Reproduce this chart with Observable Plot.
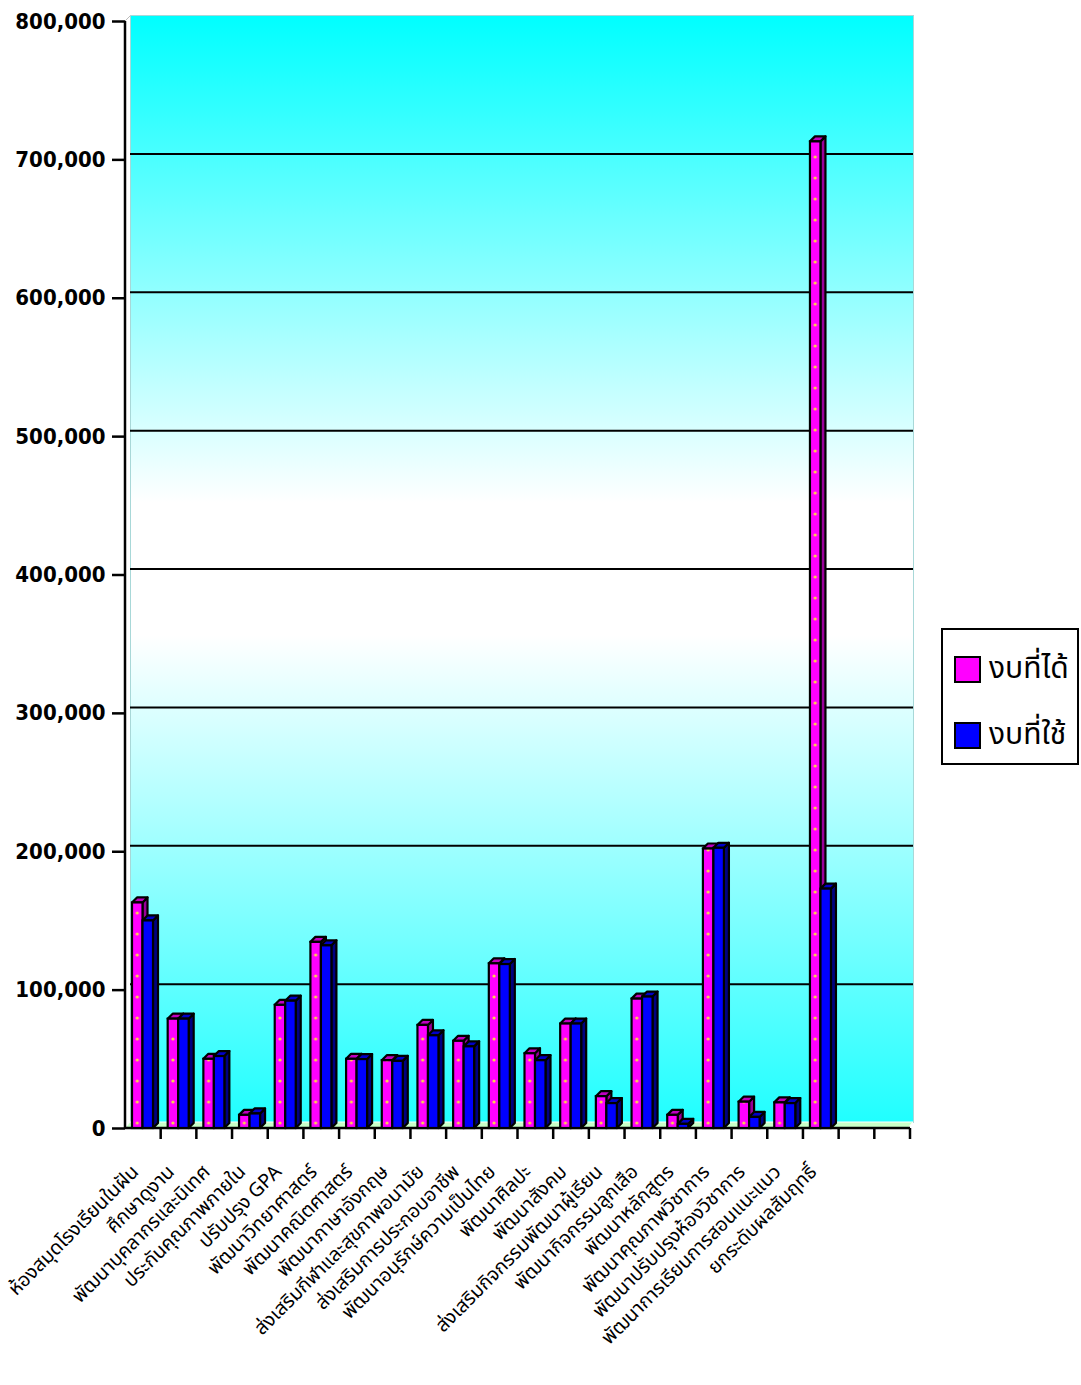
<!DOCTYPE html>
<html><head><meta charset="utf-8">
<script src="https://cdn.jsdelivr.net/npm/d3@7"></script>
<script src="https://cdn.jsdelivr.net/npm/@observablehq/plot@0.6"></script>
<style>
body{margin:0;background:#fff;}
#wrap{position:relative;width:1081px;height:1385px;overflow:hidden;}
#legend{position:absolute;left:941px;top:628px;width:134px;height:133px;border:2px solid #000;background:#fff;font-family:"Noto Sans Thai","Tahoma","DejaVu Sans",sans-serif;font-size:30px;color:#000;}
#legend .it{position:absolute;left:11px;display:flex;align-items:center;}
#legend .sw{width:23px;height:23px;border:2px solid #000;margin-right:8px;}
</style></head><body><div id="wrap"></div>
<script>
const categories = [
  "ห้องสมุดโรงเรียนในฝัน","ศึกษาดูงาน","พัฒนาบุคลากรและนิเทศ","ประกันคุณภาพภายใน","ปรับปรุง GPA",
  "พัฒนาวิทยาศาสตร์","พัฒนาคณิตศาสตร์","พัฒนาภาษาอังกฤษ","ส่งเสริมกีฬาและสุขภาพอนามัย","ส่งเสริมการประกอบอาชีพ",
  "พัฒนาอนุรักษ์ความเป็นไทย","พัฒนาศิลปะ","พัฒนาสังคม","ส่งเสริมกิจกรรมพัฒนาผู้เรียน","พัฒนากิจกรรมลูกเสือ",
  "พัฒนาหลักสูตร","พัฒนาคุณภาพวิชาการ","พัฒนาปรับปรุงห้องวิชาการ","พัฒนาการเรียนการสอนแนะแนว","ยกระดับผลสัมฤทธิ์"
];
const budgetReceived = [163000,79000,50000,9500,89000,134500,50000,49000,74500,63000,119000,54000,75500,23000,93500,9500,202000,19000,18500,713000];
const budgetUsed     = [150000,79000,52000,10500,92000,132000,49800,48500,67000,59000,118500,49000,75500,18000,95000,3000,202500,8000,18000,173000];
const emptySlots = [" ", "  "];
const yTicks = [0,100000,200000,300000,400000,500000,600000,700000,800000];
const seriesNames = ["งบที่ได้","งบที่ใช้"];
const seriesColors = ["#ff00ff","#0000ff"];

const received = categories.map((c,i)=>({cat:c, value:budgetReceived[i]}));
const used = categories.map((c,i)=>({cat:c, value:budgetUsed[i]}));
const xDomain = categories.concat(emptySlots);

const W = 1081, H = 1385, mL = 125, mR = 171, mT = 21, mB = 257;
const BW = (W - mL - mR) / xDomain.length;
const D = 5;          // 3D depth in px
const P_L = 7, BARW = 10.5, B_L = P_L + BARW;
const thaiFont = "'Noto Sans Thai','Tahoma','DejaVu Sans',sans-serif";

function decor(index, scales) {
  const x = scales.x, y = scales.y;
  const bw = x.bandwidth();
  const y0 = y(0);
  const xs = x(xDomain[0]), xe = x(xDomain[xDomain.length-1]) + bw;
  const g = d3.create("svg:g");
  g.append("path").attr("d", `M${xs},${y0}L${xs+D},${y0-D-1}L${xe+D-2},${y0-D-1}L${xe-2},${y0}Z`)
    .attr("fill","#c8ffc8").attr("stroke","#fff").attr("stroke-width",1);
  g.append("line").attr("x1",xs).attr("x2",xe).attr("y1",y0).attr("y2",y0).attr("stroke","#000").attr("stroke-width",2.5);
  g.append("line").attr("x1",xs).attr("x2",xs).attr("y1",y(800000)).attr("y2",y0).attr("stroke","#000").attr("stroke-width",2.5);
  g.append("line").attr("x1",xs).attr("x2",xs+D).attr("y1",y(800000)).attr("y2",y(800000)-D).attr("stroke","#bbb").attr("stroke-width",1);
  xDomain.forEach((c,i) => {
    const xb = x(c) + bw;
    g.append("line").attr("x1",xb).attr("x2",xb).attr("y1",y0).attr("y2",y0+11).attr("stroke","#000").attr("stroke-width",2.5);
  });
  return g.node();
}

function faces(series, left, sideColor, topColor) {
  return function(index, scales) {
    const x = scales.x, y = scales.y;
    const g = d3.create("svg:g").attr("stroke","#000").attr("stroke-width",2.2).attr("stroke-linejoin","round");
    series.forEach(d => {
      const x0 = x(d.cat) + left, x1 = x0 + BARW, yt = y(d.value), yb = y(0);
      g.append("path").attr("fill", sideColor)
        .attr("d", `M${x1},${yt}L${x1+D},${yt-D}L${x1+D},${yb-D}L${x1},${yb}Z`);
      g.append("path").attr("fill", topColor)
        .attr("d", `M${x0},${yt}L${x0+D},${yt-D}L${x1+D},${yt-D}L${x1},${yt}Z`);
    });
    return g.node();
  };
}

const chart = Plot.plot({
  width: W, height: H,
  marginLeft: mL, marginRight: mR, marginTop: mT, marginBottom: mB,
  style: {fontFamily: thaiFont, background: "transparent", overflow: "visible"},
  x: {domain: xDomain, padding: 0, round: false, axis: null},
  y: {domain: [0, 800000], axis: null},
  marks: [
    Plot.frame({fill: "url(#wallGrad)", stroke: "#a8d8d8", insetLeft: 5, insetRight: -3, insetTop: -6, insetBottom: 6}),
    Plot.ruleY(yTicks.slice(1, -1), {y: d => d, stroke: "#000", strokeWidth: 2, dy: -6, insetLeft: 5, insetRight: -3}),
    decor,
    Plot.axisY({ticks: yTicks, tickSize: 13, tickPadding: 7, tickFormat: d3.format(","), fontSize: 22, fontWeight: "bold",
      fontFamily: "'DejaVu Sans Condensed','DejaVu Sans',sans-serif", strokeWidth: 2.5, label: null}),
    Plot.axisX({ticks: categories, tickSize: 0, tickPadding: 40, tickRotate: -45, fontSize: 19.5, dx: -8, label: null, fontFamily: thaiFont}),
    faces(received, P_L, "#990099", "#c000c0"),
    faces(used, B_L, "#000080", "#0000c8"),
    Plot.barY(received, {x: "cat", y: "value", fill: "url(#pinkDots)", stroke: "#000", strokeWidth: 2.2,
      insetLeft: P_L, insetRight: BW - P_L - BARW}),
    Plot.barY(used, {x: "cat", y: "value", fill: seriesColors[1], stroke: "#000", strokeWidth: 2.2,
      insetLeft: B_L, insetRight: BW - B_L - BARW})
  ]
});

const defs = `<defs>
<linearGradient id="wallGrad" x1="0" y1="0" x2="0" y2="1">
  <stop offset="0" stop-color="#00ffff"/>
  <stop offset="0.44" stop-color="#ffffff"/>
  <stop offset="0.56" stop-color="#ffffff"/>
  <stop offset="1" stop-color="#20ffff"/>
</linearGradient>
<pattern id="pinkDots" patternUnits="userSpaceOnUse" x="${mL + P_L + BARW/2 - 2}" y="0" width="${BW}" height="21">
  <rect x="-1" y="-1" width="${BW+2}" height="23" fill="${seriesColors[0]}"/>
  <circle cx="2" cy="10" r="1.6" fill="#ffd24a"/>
</pattern>
</defs>`;
chart.insertAdjacentHTML("afterbegin", defs);
document.getElementById("wrap").appendChild(chart);

const leg = document.createElement("div");
leg.id = "legend";
leg.innerHTML = seriesNames.map((n,i) =>
  `<div class="it" style="top:${i===0?16:82}px"><div class="sw" style="background:${seriesColors[i]}"></div><span>${n}</span></div>`).join("");
document.getElementById("wrap").appendChild(leg);
</script>
</body></html>
